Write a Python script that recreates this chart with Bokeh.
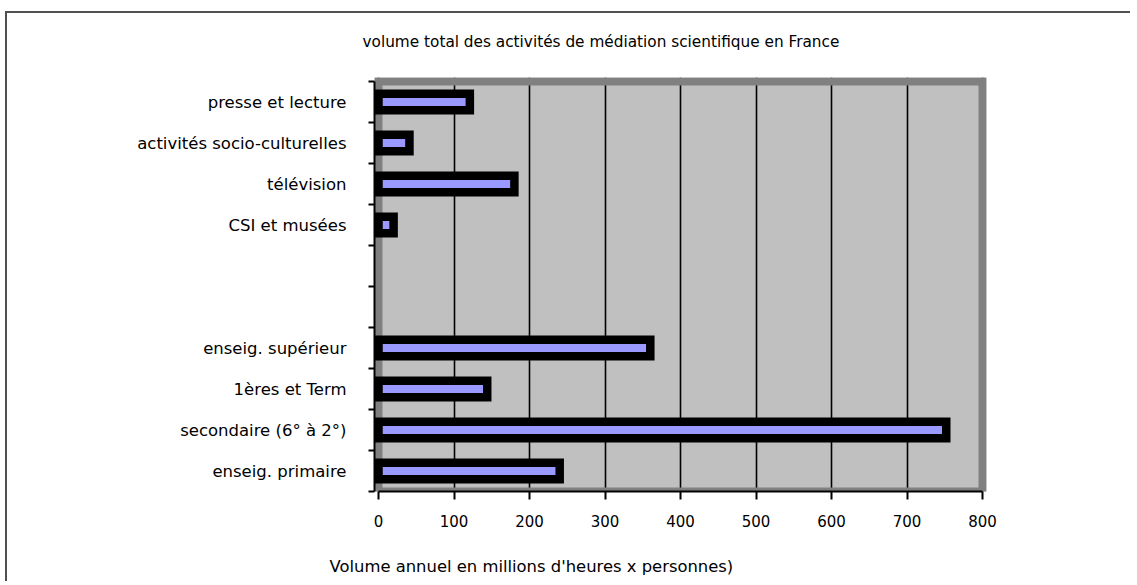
from bokeh.plotting import figure
from bokeh.models import FixedTicker, Title, Range1d
from bokeh.embed import file_html
from bokeh.resources import INLINE

# ---- data ----
categories = [
    "presse et lecture",
    "activités socio-culturelles",
    "télévision",
    "CSI et musées",
    "",
    " ",
    "enseig. supérieur",
    "1ères et Term",
    "secondaire (6° à 2°)",
    "enseig. primaire",
]
values = [121, 41, 180, 20, None, None, 360, 144, 752, 240]
x_ticks = [0, 100, 200, 300, 400, 500, 600, 700, 800]
title_text = "volume total des activités de médiation scientifique en France"
x_label = "Volume annuel en millions d'heures x personnes)"

FONT = "DejaVu Sans"

n = len(categories)
slot_centers = [n - i - 0.5 for i in range(n)]
bar_y = [slot_centers[i] for i, v in enumerate(values) if v is not None]
bar_v = [v for v in values if v is not None]
x_max = x_ticks[-1]

px_x = 604 / x_max
px_y = 410 / n
pad_x = 4 / px_x
pad_y = 4 / px_y

p = figure(
    width=1125, height=570,
    x_range=Range1d(-pad_x, x_max + pad_x),
    y_range=Range1d(0, n + pad_y),
    output_backend="svg", toolbar_location=None,
    min_border_left=367, min_border_right=146,
    min_border_top=64, min_border_bottom=92,
)
p.styles = {
    "border-top": "2px solid #505050",
    "border-left": "2px solid #505050",
    "margin-top": "11px",
    "margin-left": "5px",
}
p.background_fill_color = "#C0C0C0"
p.border_fill_color = "white"
p.outline_line_color = None

# grey plot-area border
p.quad(left=[0], right=[x_max], bottom=[0], top=[n],
       fill_color=None, line_color="#808080", line_width=8,
       line_join="miter")

# bars
p.hbar(y=bar_y, left=0, right=bar_v, height=0.4,
       fill_color="#9999FF", line_color="black", line_width=8.5,
       line_join="miter")

# x axis
xa = p.xaxis[0]
xa.ticker = FixedTicker(ticks=x_ticks)
xa.bounds = (0, x_max)
xa.axis_line_color = "black"
xa.axis_line_width = 2
xa.major_tick_out = 8
xa.major_tick_in = 0
xa.major_tick_line_color = "black"
xa.major_tick_line_width = 2
xa.minor_tick_line_color = None
xa.major_label_standoff = 15
xa.major_label_text_font = FONT
xa.major_label_text_font_size = "15px"
xa.major_label_text_color = "black"

# y axis
ya = p.yaxis[0]
ya.ticker = FixedTicker(ticks=slot_centers, minor_ticks=list(range(n + 1)))
ya.major_label_overrides = {float(c): lab for c, lab in zip(slot_centers, categories)}
ya.bounds = (0, n)
ya.axis_line_color = "black"
ya.axis_line_width = 2
ya.major_tick_line_color = None
ya.major_tick_out = 0
ya.major_tick_in = 0
ya.minor_tick_out = 6
ya.minor_tick_in = 0
ya.minor_tick_line_color = "black"
ya.minor_tick_line_width = 2
ya.major_label_standoff = 22
ya.major_label_text_font = FONT
ya.major_label_text_font_size = "16.5px"
ya.major_label_text_color = "black"

# grid
p.xgrid.ticker = FixedTicker(ticks=x_ticks)
p.xgrid.grid_line_color = "black"
p.xgrid.grid_line_width = 1.6
p.ygrid.grid_line_color = None

# titles (an extra blank line shifts the text inside its panel)
p.add_layout(Title(text=title_text + "\n ", align="left", offset=-12, standoff=18,
                   text_font=FONT, text_font_size="15.3px",
                   text_font_style="normal", text_color="black"), "above")
p.add_layout(Title(text=" \n" + x_label, align="left", offset=-45, standoff=12,
                   text_font=FONT, text_font_size="16.4px",
                   text_font_style="normal", text_color="black"), "below")

open("out.html", "w").write(file_html(p, INLINE))
